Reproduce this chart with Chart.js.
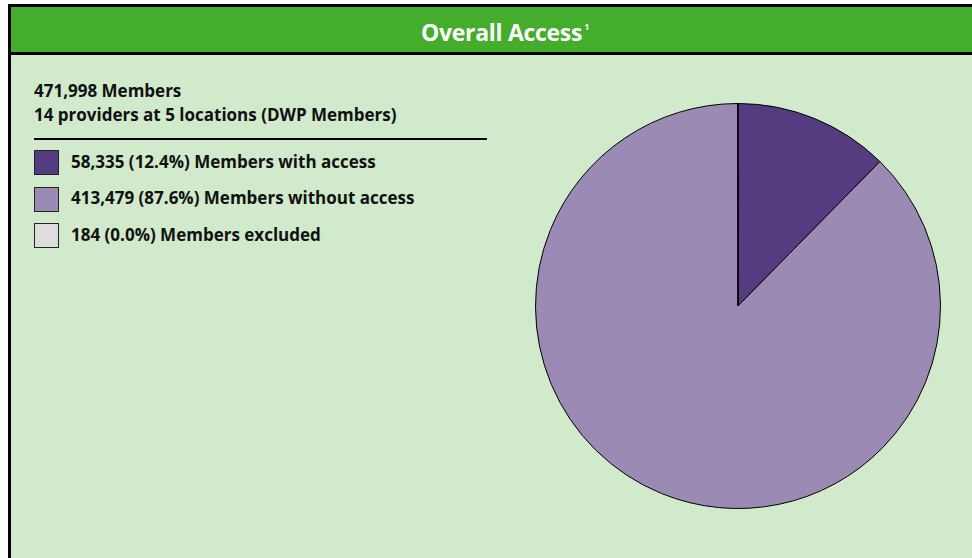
<!DOCTYPE html>
<html>
<head>
<meta charset="utf-8">
<script src="https://cdn.jsdelivr.net/npm/chart.js@4.4.0/dist/chart.umd.min.js"></script>
<style>
  body { margin: 0; background: #fff; width: 972px; height: 558px; overflow: hidden; font-family: "Open Sans", sans-serif; }
  #frame { position: absolute; left: 8px; top: 4px; width: 1000px; height: 600px; border-left: 3px solid #000; border-top: 3px solid #000; background: #d0eacb; }
  #header { position: absolute; left: 0; top: 0; width: 988px; height: 45px; background: #44ad2c; border-bottom: 3px solid #000;
            color: #fff; font-weight: bold; font-size: 23px; text-align: center; line-height: 40px; letter-spacing: -0.3px; }
  #header sup { font-size: 9px; vertical-align: 11px; margin-left: 2px; }
  #info { position: absolute; left: 23px; top: 72px; font-weight: bold; font-size: 17px; color: #111; line-height: 24px; }
  #rule { position: absolute; left: 23px; top: 131px; width: 453px; height: 2px; background: #000; }
  #legend { position: absolute; left: 23px; top: 143px; }
  .item { position: relative; height: 36.5px; font-weight: bold; font-size: 17px; color: #111; }
  .box { position: absolute; left: 0; top: 0; width: 23px; height: 23px; border: 1px solid #222; }
  .txt { position: absolute; left: 37px; top: -0.5px; white-space: nowrap; }
  #pie { position: absolute; left: 534.5px; top: 103px; width: 406px; height: 406px; }
</style>
</head>
<body>
<div id="frame">
  <div id="header">Overall Access<sup>1</sup></div>
  <div id="info"><div id="members"></div><div>14 providers at 5 locations (DWP Members)</div></div>
  <div id="rule"></div>
  <div id="legend"></div>
</div>
<div id="pie"><canvas id="myChart"></canvas></div>
<script>
var labels = ['Members with access', 'Members without access', 'Members excluded'];
var members = [58335, 413479, 184];
var colors = ['#553c80', '#9a8ab4', '#dddddd'];

var total = members.reduce(function (a, b) { return a + b; }, 0);
document.getElementById('members').textContent = total.toLocaleString('en-US') + ' Members';

var legend = document.getElementById('legend');
labels.forEach(function (lbl, i) {
    var pct = (members[i] / total * 100).toFixed(1);
    var item = document.createElement('div');
    item.className = 'item';
    item.innerHTML = '<div class="box" style="background:' + colors[i] + '"></div>' +
        '<div class="txt">' + members[i].toLocaleString('en-US') + ' (' + pct + '%) ' + lbl + '</div>';
    legend.appendChild(item);
});

var ctx = document.getElementById('myChart');
var myChart = new Chart(ctx, {
    type: 'pie',
    data: {
        labels: labels,
        datasets: [{
            data: members,
            backgroundColor: colors,
            borderColor: '#000',
            borderWidth: 1
        }]
    },
    options: {
        responsive: true,
        maintainAspectRatio: false,
        animation: false,
        layout: { padding: 0 },
        plugins: {
            legend: { display: false },
            tooltip: { enabled: false }
        }
    }
});
</script>
</body>
</html>
